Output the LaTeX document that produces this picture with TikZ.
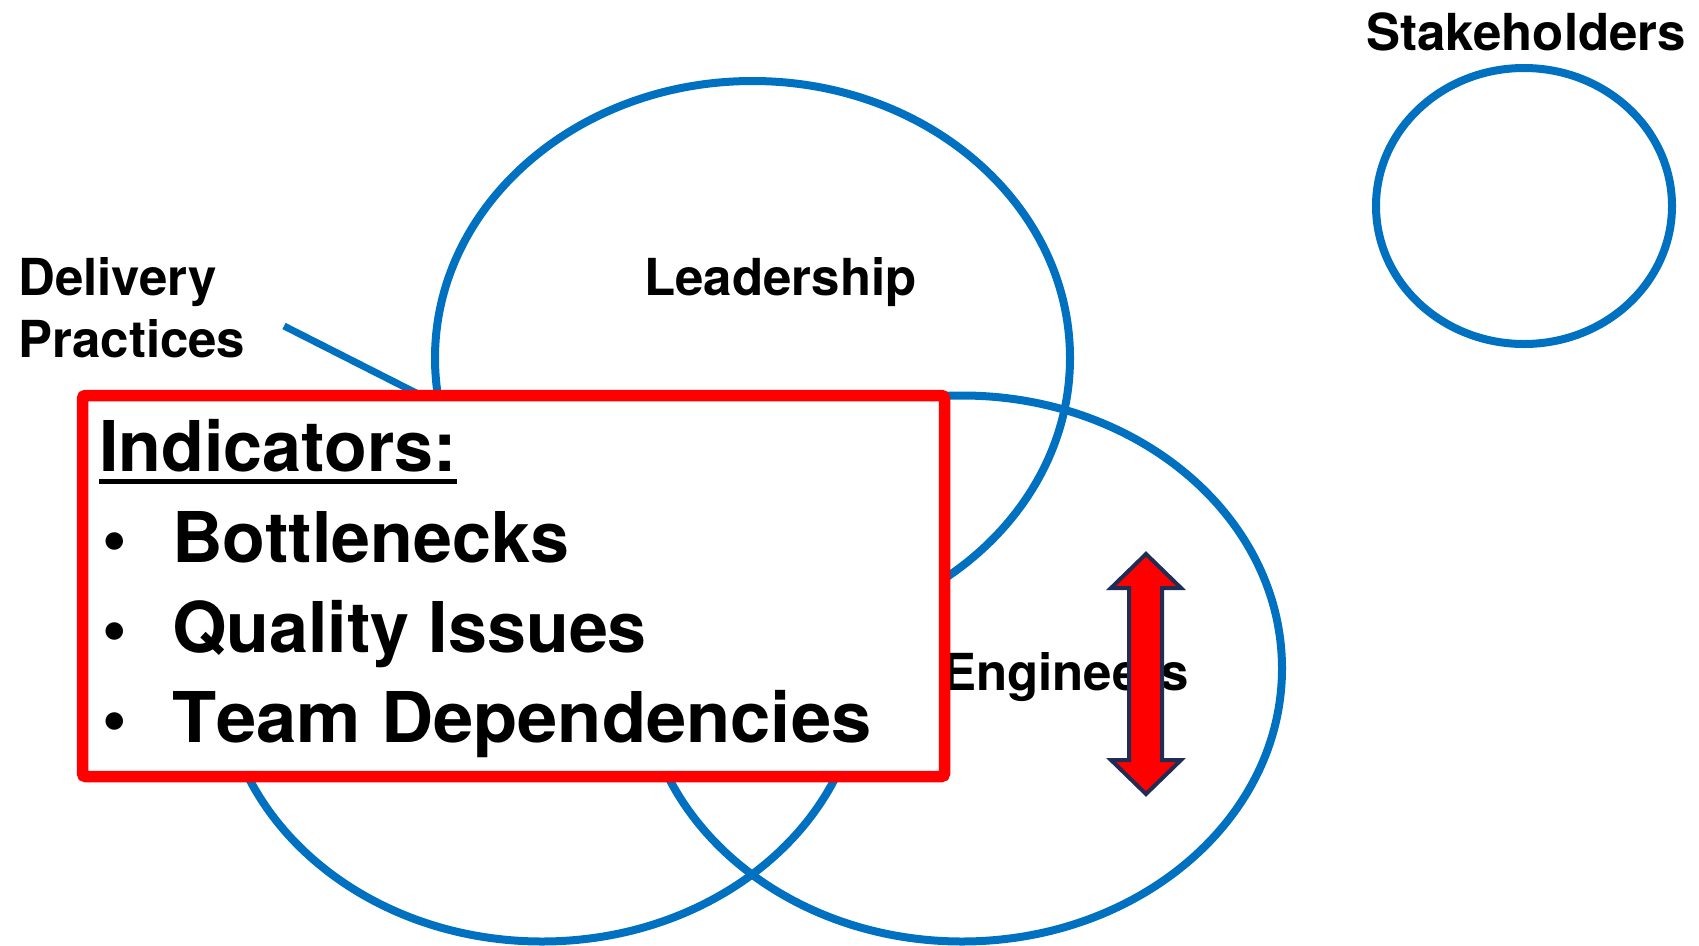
\documentclass[tikz,border=0pt]{standalone}
\usepackage{fontspec}
\setmainfont{TeX Gyre Heros}
\newfontfamily\boxfont[Kerning=Off]{TeX Gyre Heros}
\definecolor{ringblue}{HTML}{0070C0}
\definecolor{boxred}{HTML}{FF0000}
\definecolor{arrnavy}{HTML}{1F2D55}
\tikzset{
  ring/.style={draw=ringblue, line width=8pt},
  lbl/.style={anchor=base west, inner sep=0pt, font=\fontsize{51}{62}\selectfont\bfseries},
  boxtxt/.style={anchor=base west, inner sep=0pt, font=\boxfont\fontsize{70}{84}\selectfont\bfseries},
  indbox/.style={draw=boxred, fill=white, line width=11.5pt, rounded corners=3pt, outer sep=0pt, inner sep=0pt},
  blockarrow/.style={fill=boxred, draw=arrnavy, line width=4pt, line join=miter}
}
\begin{document}
\begin{tikzpicture}[x=1pt,y=-1pt]
\useasboundingbox (0,0) rectangle (1699,945);
% circles
\draw[ring] (752.5,358) ellipse [x radius=317.5pt, y radius=277pt];
\draw[ring] (962,668.5) ellipse [x radius=320pt, y radius=273pt];
\draw[ring] (542,668.5) ellipse [x radius=320pt, y radius=273pt];
\draw[ring] (1524,206) ellipse [x radius=148pt, y radius=138pt];
% labels
\node[lbl] (deliv1) at (18,295) {Delivery};
\node[lbl] (deliv2) at (18,357) {Practices};
\node[lbl] (lead) at (644,295) {Leadership};
\node[lbl] (stake) at (1366,50) {Stakeholders};
\node[lbl] (eng) at (942,690) {Engineers};
% pointer line
\coordinate (pstart) at (284,326);
\coordinate (pend) at (430,400);
\draw[draw=ringblue, line width=7pt] (pstart) -- (pend);
% indicator box
\node[indbox, minimum width=862pt, minimum height=381pt, anchor=north west] (box) at (82.5,395.5) {};
\node[boxtxt] (ind) at (99,471) {Indicators:};
\draw[line width=5pt] ([yshift=-10pt]ind.base west) -- ([yshift=-10pt]ind.base east);
\node[boxtxt] (bu1) at (102,562) {•};
\node[boxtxt] (it1) at (172,562) {Bottlenecks};
\node[boxtxt] (bu2) at (102,652) {•};
\node[boxtxt] (it2) at (172,652) {Quality Issues};
\node[boxtxt] (bu3) at (102,742) {•};
\node[boxtxt, xscale=1.033, transform shape] (it3) at (172,742) {Team Dependencies};
% double arrow
\draw[blockarrow] (1146,554) -- (1181,588) -- (1162,588) -- (1162,760) -- (1181,760)
  -- (1146,794) -- (1111,760) -- (1129,760) -- (1129,588) -- (1111,588) -- cycle;
\end{tikzpicture}
\end{document}
